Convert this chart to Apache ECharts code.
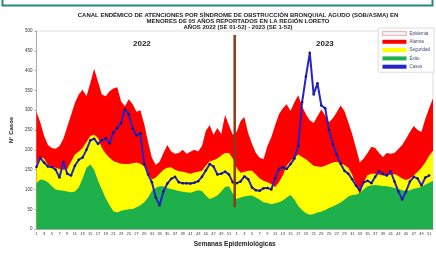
<!DOCTYPE html>
<html>
<head>
<meta charset="utf-8">
<script src="https://cdn.jsdelivr.net/npm/echarts@6/dist/echarts.min.js"></script>
<style>
  html, body { margin: 0; padding: 0; background: #fff; }
  #chart { width: 436px; height: 253px; }
</style>
</head>
<body>
<div id="chart"></div>
<script>
// semanas epidemiologicas 2022 (1-52) y 2023 (1-52)
const weeks = [
  1, 2, 3, 4, 5, 6, 7, 8, 9, 10, 11, 12, 13, 14, 15, 16, 17, 18, 19, 20, 21, 22, 23, 24, 25, 26,
  27, 28, 29, 30, 31, 32, 33, 34, 35, 36, 37, 38, 39, 40, 41, 42, 43, 44, 45, 46, 47, 48, 49, 50, 51, 52,
  1, 2, 3, 4, 5, 6, 7, 8, 9, 10, 11, 12, 13, 14, 15, 16, 17, 18, 19, 20, 21, 22, 23, 24, 25, 26,
  27, 28, 29, 30, 31, 32, 33, 34, 35, 36, 37, 38, 39, 40, 41, 42, 43, 44, 45, 46, 47, 48, 49, 50, 51, 52
];

// limite superior zona de alarma
const alarma = [
  297, 270, 235, 212, 205, 203, 210, 228, 258, 288, 318, 340, 352, 335, 368, 405, 372, 340, 335, 348,
  355, 358, 322, 310, 328, 315, 296, 300, 265, 220, 180, 162, 170, 192, 212, 196, 190, 192, 200, 190,
  195, 200, 196, 210, 248, 262, 238, 255, 240, 288, 262, 238,
  245, 272, 283, 242, 215, 192, 180, 176, 210, 232, 262, 290, 305, 315, 298, 320, 338, 310,
  290, 275, 268, 285, 302, 287, 270, 280, 295, 312, 298, 270, 240, 205, 168, 178, 192, 208,
  205, 192, 182, 192, 190, 192, 202, 212, 228, 245, 260, 250, 245, 278, 305, 330
];

// limite superior zona de seguridad
const seguridad = [
  165, 182, 178, 162, 158, 155, 152, 150, 152, 170, 188, 196, 205, 220, 235, 238, 230, 205, 190, 180,
  172, 168, 165, 164, 164, 166, 168, 165, 158, 142, 125, 130, 140, 150, 155, 156, 150, 146, 145, 142,
  140, 143, 145, 147, 160, 171, 174, 178, 186, 192, 192, 178,
  155, 142, 145, 147, 147, 138, 128, 122, 118, 114, 106, 118, 135, 160, 172, 181, 188, 182,
  176, 168, 160, 158, 157, 160, 164, 168, 170, 166, 162, 155, 138, 112, 88, 118, 136, 140,
  140, 138, 135, 135, 137, 139, 134, 128, 124, 128, 135, 145, 155, 168, 185, 198
];

// limite superior zona de exito
const exito = [
  116, 125, 123, 118, 108, 100, 98, 97, 95, 93, 95, 105, 128, 155, 163, 150, 122, 100, 78, 60,
  45, 42, 46, 48, 50, 51, 55, 60, 68, 80, 96, 104, 108, 108, 104, 101, 99, 96, 94, 93,
  92, 95, 98, 96, 85, 76, 80, 85, 95, 106, 108, 90,
  76, 80, 82, 84, 85, 80, 74, 68, 66, 63, 65, 68, 72, 80, 86, 75, 58, 48,
  40, 36, 38, 42, 44, 48, 53, 57, 62, 67, 74, 82, 86, 87, 92, 100, 108, 110,
  111, 110, 109, 108, 106, 104, 102, 98, 96, 98, 102, 104, 106, 112, 117, 122
];

// casos notificados
const casos = [
  157, 180, 168, 158, 157, 150, 130, 170, 140, 135, 160, 175, 181, 200, 224, 228, 215, 224, 229, 216,
  244, 255, 268, 302, 290, 254, 236, 242, 165, 138, 118, 80, 60, 95, 115, 127, 132, 118, 116, 116,
  115, 117, 121, 132, 148, 164, 158, 138, 140, 145, 138, 118,
  116, 120, 133, 126, 105, 98, 97, 103, 104, 100, 128, 152, 156, 152, 164, 178, 210, 320,
  385, 445, 340, 368, 312, 305, 250, 215, 188, 165, 147, 140, 126, 110, 98, 118, 122, 116,
  132, 146, 140, 135, 146, 120, 95, 75, 95, 120, 132, 128, 110, 130, 135, null
];

// separacion entre 2022 y 2023
const yearBreak = 51.5;
const breakLine = [490, 55];

const chart = echarts.init(document.getElementById('chart'));

const areaSeries = (name, data, color) => ({
  name,
  type: 'line',
  data,
  symbol: 'none',
  color,
  lineStyle: { width: 0 },
  areaStyle: { color, opacity: 1 },
  silent: true,
});

const option = {
  animation: false,
  textStyle: { fontFamily: 'Liberation Sans, Arial, sans-serif' },
  title: {
    text: 'CANAL ENDÉMICO DE ATENCIONES POR SÍNDROME DE OBSTRUCCIÓN BRONQUIAL AGUDO (SOB/ASMA) EN\n' +
      'MENORES DE 05 AÑOS REPORTADOS EN LA REGIÓN LORETO\n' +
      'AÑOS 2022 (SE 01-52) - 2023 (SE 1-52)',
    left: 233,
    top: 8,
    textAlign: 'center',
    textStyle: { fontSize: 6, lineHeight: 5.6, fontWeight: 'bold', color: '#222' },
  },
  legend: {
    orient: 'vertical',
    right: 2,
    top: 28,
    padding: [3, 4, 3, 4],
    itemGap: 3.3,
    itemWidth: 24,
    itemHeight: 4,
    backgroundColor: '#fff',
    borderColor: '#ddd',
    borderWidth: 1,
    textStyle: { fontSize: 4.5, color: '#3c4a78', padding: [0, 0, 0, -2] },
    data: [
      { name: 'Epidemia', icon: 'rect', itemStyle: { color: '#f6f0f0', borderColor: '#d88', borderWidth: 0.6 } },
      { name: 'Alarma', icon: 'rect' },
      { name: 'Seguridad', icon: 'rect' },
      { name: 'Éxito', icon: 'rect' },
      { name: 'Casos', icon: 'rect', itemStyle: { color: '#2424c8' } },
    ],
  },
  grid: { left: 34, right: 3, top: 31, bottom: 15, show: true, borderColor: '#ddd', borderWidth: 1 },
  xAxis: [
    {
      type: 'category',
      data: weeks,
      boundaryGap: false,
      name: 'Semanas Epidemiológicas',
      nameLocation: 'middle',
      nameGap: 9,
      nameTextStyle: { fontSize: 6.5, fontWeight: 'bold', color: '#222' },
      axisLine: { lineStyle: { color: '#aaa' } },
      axisTick: { show: false },
      axisLabel: { interval: 1, fontSize: 4, color: '#333', margin: 3 },
    },
    { type: 'value', min: 0, max: weeks.length - 1, show: false },
  ],
  yAxis: {
    type: 'value',
    min: 0,
    max: 500,
    interval: 50,
    name: 'N° Casos',
    nameLocation: 'middle',
    nameRotate: 90,
    nameGap: 12,
    nameTextStyle: { fontSize: 6, fontWeight: 'bold', color: '#222' },
    axisLine: { show: true, lineStyle: { color: '#aaa' } },
    axisTick: { show: true, length: 2, lineStyle: { color: '#aaa' } },
    axisLabel: { fontSize: 4.5, color: '#333', margin: 4 },
    splitLine: { show: false },
  },
  graphic: [
    {
      type: 'polyline',
      shape: { points: [[2.5, 0], [2.5, 5.5], [432.5, 5.5], [432.5, 0]] },
      style: { stroke: '#23877b', lineWidth: 2, fill: null },
    },
    { type: 'text', left: 133, top: 40, style: { text: '2022', font: 'bold 8px Liberation Sans', fill: '#222' } },
    { type: 'text', left: 316, top: 40, style: { text: '2023', font: 'bold 8px Liberation Sans', fill: '#222' } },
  ],
  series: [
    { name: 'Epidemia', type: 'line', data: [], color: '#f6f0f0' },
    areaSeries('Alarma', alarma, '#ff0000'),
    areaSeries('Seguridad', seguridad, '#ffff00'),
    areaSeries('Éxito', exito, '#1eb04b'),
    {
      name: 'Casos',
      type: 'line',
      data: casos,
      color: '#2424c8',
      symbol: 'circle',
      symbolSize: 2.5,
      itemStyle: { color: '#14147a' },
      lineStyle: { width: 2, color: '#2424c8' },
      z: 5,
    },
    {
      name: 'corte',
      type: 'line',
      xAxisIndex: 1,
      data: breakLine.map(v => [yearBreak, v]),
      symbol: 'none',
      lineStyle: { width: 2.5, color: '#8b3b18' },
      z: 6,
      silent: true,
    },
  ],
};

chart.setOption(option);
</script>
</body>
</html>
